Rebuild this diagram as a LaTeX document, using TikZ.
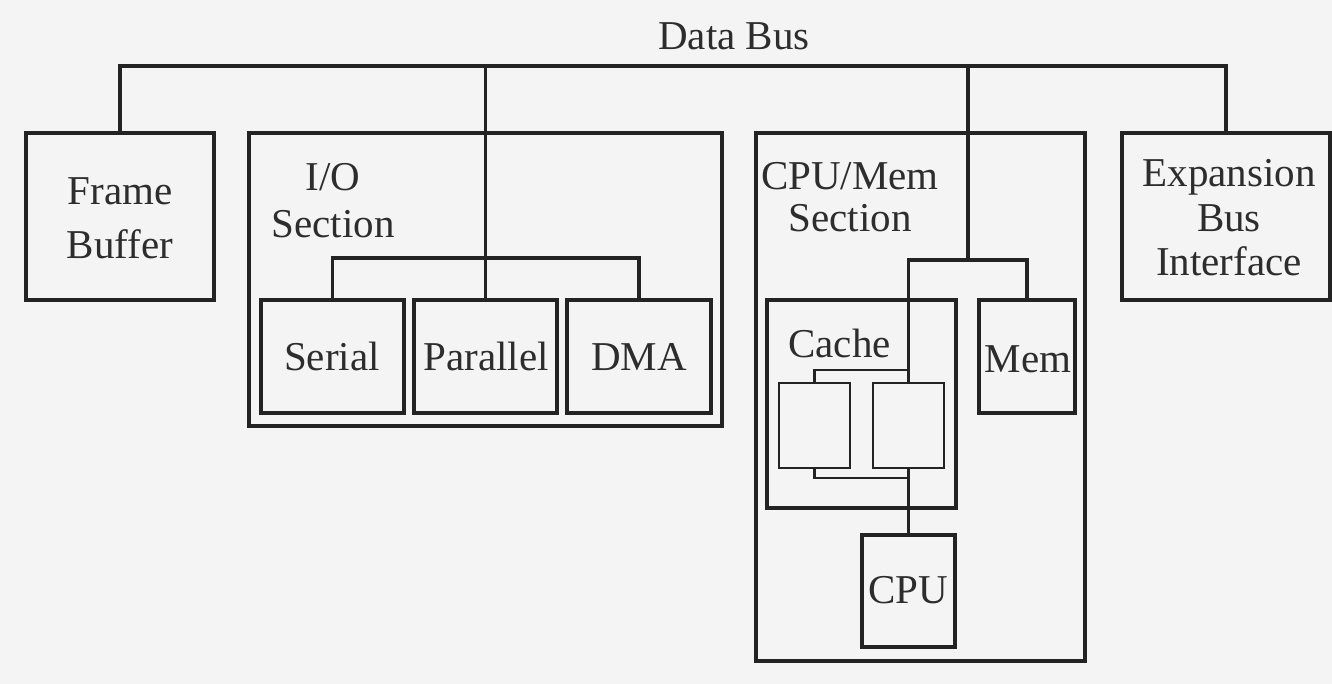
\documentclass[tikz,border=0pt]{standalone}
\usepackage{fontspec}
\setmainfont{Liberation Serif}
\usetikzlibrary{fit}
\definecolor{ink}{RGB}{35,35,35}
\definecolor{txtc}{RGB}{45,45,45}
\definecolor{paper}{RGB}{244,244,244}
\begin{document}
\begin{tikzpicture}[x=0.5pt,y=-0.5pt,
  box/.style={draw=ink, line width=1.8pt, inner sep=0pt},
  thinbox/.style={draw=ink, line width=1.1pt, inner sep=0pt},
  wire/.style={draw=ink, line width=1.8pt},
  thinwire/.style={draw=ink, line width=1.1pt},
  txt/.style={text=txtc, font=\fontsize{20.5}{22}\selectfont, inner sep=0pt, anchor=base},
  txtl/.style={txt, anchor=base west},
]
\fill[paper] (0,0) rectangle (1332,684);
\useasboundingbox (0,0) rectangle (1332,684);

% title
\node[txt] (title) at (734,50) {Data Bus};

% outer boxes
\node[box, fit={(26,133) (214,300)}] (fb) {};
\node[box, fit={(249,133) (722,426)}] (io) {};
\node[box, fit={(756,133) (1085,661)}] (cm) {};
\node[box, fit={(1122,133) (1330,300)}] (exp) {};

% box texts
\node[txt] (fbt1) at (120,205) {Frame};
\node[txt] (fbt2) at (120,258) {Buffer};
\node[txt] (ext1) at (1229,187) {Expansion};
\node[txt] (ext2) at (1229,232) {Bus};
\node[txt] (ext3) at (1229,275) {Interface};

% section labels
\node[txt] (iol1) at (333,191) {I/O};
\node[txt] (iol2) at (333,237) {Section};
\node[txt] (cml1) at (850,190) {CPU/Mem};
\node[txt] (cml2) at (850,232) {Section};

% I/O devices
\node[box, fit={(261,300) (404,413)}] (ser) {};
\node[box, fit={(414,300) (557,413)}] (par) {};
\node[box, fit={(567,300) (711,413)}] (dma) {};
\node[txt] (sert) at (332,370) {Serial};
\node[txt] (part) at (486,370) {Parallel};
\node[txt] (dmat) at (639,370) {DMA};

% CPU/Mem internals
\node[box, fit={(767,300) (956,508)}] (cache) {};
\node[txtl] (cachelbl) at (788,357) {Cache};
\node[thinbox, fit={(779,383) (850,468)}] (cl) {};
\node[thinbox, fit={(873,383) (944,468)}] (cr) {};
\node[box, fit={(979,300) (1075,413)}] (mem) {};
\node[txt] (memt) at (1028,372) {Mem};
\node[box, fit={(862,535) (955,647)}] (cpu) {};
\node[txt] (cput) at (908,603) {CPU};

% junction coordinates
\coordinate (db) at (735,66);
\coordinate (iob) at (487,258);
\coordinate (cmtap) at (968,260);
\coordinate (ctop) at (815,370);
\coordinate (cbot) at (815,478);

% data bus
\draw[wire] (fb.north) |- (db) -| (exp.north);
\draw[wire] (par.north) -- (par.north |- db);
\draw[wire] (cmtap) -- (cmtap |- db);

% I/O bus
\draw[wire] (ser.north) |- (iob) -| (dma.north);

% CPU/Mem bus
\draw[wire] (mem.north) |- (cr.north |- cmtap) -- (cr.north |- ctop);
\draw[thinwire] (cr.north |- ctop) -- (cr.north);
\draw[thinwire] (cl.north) |- (cr.north |- ctop);
\draw[thinwire] (cl.south) |- (cr.south |- cbot);
\draw[thinwire] (cr.south) -- (cr.south |- cbot);
\draw[wire] (cr.south |- cbot) -- (cpu.north);
\end{tikzpicture}
\end{document}
